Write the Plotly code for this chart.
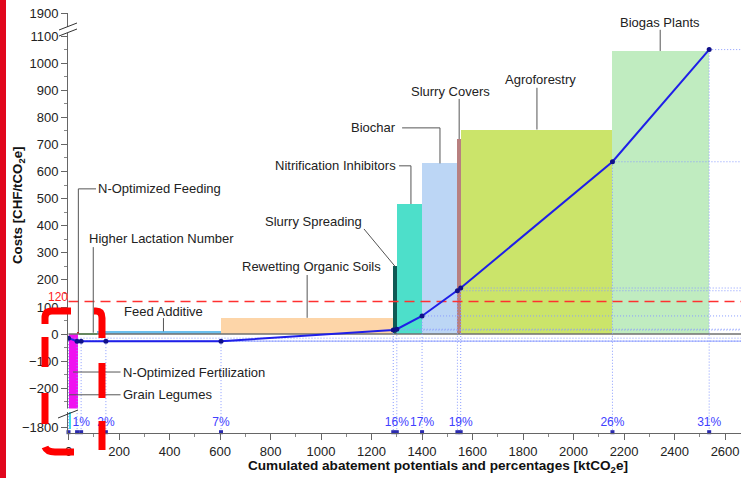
import plotly.graph_objects as go

# ---------------- data ----------------
measures = ["Grain Legumes", "N-Optimized Fertilization", "N-Optimized Feeding",
            "Higher Lactation Number", "Feed Additive", "Rewetting Organic Soils",
            "Slurry Spreading", "Nitrification Inhibitors", "Biochar",
            "Slurry Covers", "Agroforestry", "Biogas Plants"]
x_start = [0, 0, 34, 42, 114, 604, 1286, 1300, 1400, 1540, 1553, 2154]
x_end = [10, 38, 42, 114, 604, 1286, 1300, 1400, 1540, 1553, 2154, 2537]
costs = [-1805, -275, 8, 5, 10, 60, 250, 480, 630, 720, 755, 1045]
colors = ["#40dced", "#f012f0", "#a83a28", "#44cc33", "#6cc0ee", "#fdd5a8",
          "#0e5a55", "#4ddfca", "#bcd6f5", "#b88080", "#cbe46a", "#c0ecc0"]

curve_x = [0, 34, 50, 148, 604, 1286, 1300, 1400, 1540, 1553, 2154, 2537]
curve_y = [-15, -26, -26, -26, -26, 15, 18, 67, 160, 170, 636, 1050]

pct_x = [50, 148, 604, 1300, 1400, 1553, 2154, 2537]
pct_labels = ["1%", "2%", "7%", "16%", "17%", "19%", "26%", "31%"]

y_tick_values = [1900, 1100, 1000, 900, 800, 700, 600, 500, 400, 300, 200, 100, 0, -100, -200, -1800]
y_minor_values = [1050, 950, 850, 750, 650, 550, 450, 350, 250, 150, 50, -50, -150, -250]
threshold = 120

X_MAX = 2663
Y_MIN, Y_MAX = -365, 1185
FONT = "Liberation Sans, Arial, Helvetica, sans-serif"


# broken-axis transform (real value -> display value)
def ty(v):
    if v is None:
        return None
    if v > 1100:
        return 1100 + (v - 1100) * 85.0 / 800.0
    if v < -1000:
        return v + 1456
    return v


def fmt(v):
    return ("\u2212" + str(-v)) if v < 0 else str(v)


# paper helpers for overlay decorations (plot area: x 68..741, y 13..433 px)
def PX(px):
    return (px - 68) / 673.0


def PY(py):
    return (433 - py) / 420.0


fig = go.Figure()

# bars
centers = [(a + b) / 2 for a, b in zip(x_start, x_end)]
widths = [b - a for a, b in zip(x_start, x_end)]
fig.add_trace(go.Bar(
    x=centers, y=[ty(c) for c in costs], base=0, width=widths,
    marker=dict(color=colors, line=dict(width=0)),
    hovertext=measures, showlegend=False))

# zero line
fig.add_trace(go.Scatter(x=[0, X_MAX], y=[0, 0], mode="lines",
                         line=dict(color="#707070", width=1.5), showlegend=False))

# dotted guide lines
gx, gy = [], []
for x, y in zip(curve_x, curve_y):
    gx += [x, x, None, x, X_MAX, None]
    gy += [ty(y), Y_MIN, None, ty(y), ty(y), None]
fig.add_trace(go.Scatter(x=gx, y=gy, mode="lines",
                         line=dict(color="#8a9cff", width=1, dash="1px,2px"),
                         showlegend=False))

# threshold line
fig.add_trace(go.Scatter(x=[0, X_MAX], y=[ty(threshold)] * 2, mode="lines",
                         line=dict(color="#ff3030", width=1.5, dash="10px,6px"),
                         showlegend=False))

# leader lines and labels
labels = [
    ("Biogas Plants", 2343, 1149, "center", [(2343, 1123), (2343, 1045)]),
    ("Agroforestry", 1871, 939, "center", [(1855, 909), (1855, 755)]),
    ("Slurry Covers", 1511, 894, "center", [(1547, 868), (1547, 720)]),
    ("Biochar", 1207, 761, "center", [(1321, 761), (1471, 761), (1471, 630)]),
    ("Nitrification Inhibitors", 1056, 621, "center", [(1309, 621), (1356, 621), (1356, 480)]),
    ("Slurry Spreading", 970, 414, "center", [(1170, 388), (1293, 250)]),
    ("Rewetting Organic Soils", 964, 248, "center", [(945, 218), (945, 60)]),
    ("Feed Additive", 376, 85, "center", [(376, 59), (376, 10)]),
    ("Higher Lactation Number", 370, 351, "center", [(98, 321), (98, 5)]),
    ("N-Optimized Feeding", 110, 536, "left", [(109, 536), (39, 536), (39, 8)]),
    ("N-Optimized Fertilization", 207, -140, "left", [(206, -140), (18, -140)]),
    ("Grain Legumes", 207, -224, "left", [(206, -224), (2, -224)]),
]
lx, ly = [], []
for name, tx, tyy, anc, pts in labels:
    for (px_, py_) in pts:
        lx.append(px_)
        ly.append(py_)
    lx.append(None)
    ly.append(None)
fig.add_trace(go.Scatter(x=lx, y=ly, mode="lines",
                         line=dict(color="#555555", width=1), showlegend=False))

# cost curve
fig.add_trace(go.Scatter(x=curve_x, y=[ty(v) for v in curve_y], mode="lines+markers",
                         line=dict(color="#1f1fe8", width=2),
                         marker=dict(color="#10108a", size=5), showlegend=False))

# axis markers and percentage labels
fig.add_trace(go.Scatter(x=curve_x, y=[-362] * len(curve_x), mode="markers",
                         marker=dict(symbol="square", size=4, color="#2a2ab0"),
                         cliponaxis=False, showlegend=False))
fig.add_trace(go.Scatter(x=pct_x, y=[-328] * len(pct_x), mode="text", text=pct_labels,
                         textposition="middle center",
                         textfont=dict(family=FONT, size=12, color="#4040ff"),
                         showlegend=False))

annotations = []
for name, tx, tyy, anc, pts in labels:
    annotations.append(dict(x=tx, y=tyy, xref="x", yref="y", text=name, showarrow=False,
                            xanchor=anc, yanchor="middle",
                            font=dict(family=FONT, size=13, color="#222222")))
annotations.append(dict(x=PX(58), y=ty(threshold) + 17, xref="paper", yref="y", text=str(threshold),
                        showarrow=False, xanchor="center", yanchor="middle",
                        font=dict(family=FONT, size=12, color="#ff2020")))
annotations.append(dict(x=PX(438), y=PY(466), xref="paper", yref="paper",
                        text="<b>Cumulated abatement potentials and percentages [ktCO<sub>2</sub>e]</b>",
                        showarrow=False, xanchor="center", yanchor="middle",
                        font=dict(family=FONT, size=13.6, color="#111111")))
annotations.append(dict(x=PX(18), y=PY(206), xref="paper", yref="paper",
                        text="<b>Costs [CHF/tCO<sub>2</sub>e]</b>", textangle=-90,
                        showarrow=False, xanchor="center", yanchor="middle",
                        font=dict(family=FONT, size=13.3, color="#111111")))

shapes = []
# axis break gaps and marks
shapes.append(dict(type="rect", xref="paper", yref="paper", x0=PX(64), x1=PX(72),
                   y0=PY(33), y1=PY(27), fillcolor="white", line=dict(width=0), layer="above"))
shapes.append(dict(type="line", xref="paper", yref="paper", x0=PX(59), y0=PY(30), x1=PX(77), y1=PY(23),
                   line=dict(color="#333333", width=1), layer="above"))
shapes.append(dict(type="line", xref="paper", yref="paper", x0=PX(59), y0=PY(36), x1=PX(77), y1=PY(29),
                   line=dict(color="#333333", width=1), layer="above"))
shapes.append(dict(type="rect", xref="paper", yref="paper", x0=PX(64), x1=PX(80),
                   y0=PY(412), y1=PY(408.5), fillcolor="white", line=dict(width=0), layer="above"))
shapes.append(dict(type="line", xref="paper", yref="paper", x0=PX(58), y0=PY(418), x1=PX(78), y1=PY(410),
                   line=dict(color="#333333", width=1), layer="above"))

# red strip on the left edge
shapes.append(dict(type="rect", xref="paper", yref="paper", x0=PX(0), x1=PX(6),
                   y0=PY(478), y1=PY(0), fillcolor="#e1061d", line=dict(width=0), layer="above"))

red = dict(color="#ff0000", width=7)
# left bracket
shapes.append(dict(type="path", xref="paper", yref="paper", layer="above", line=red,
                   path="M %f,%f L %f,%f Q %f,%f %f,%f L %f,%f" % (
                       PX(45), PY(324), PX(45), PY(318), PX(45), PY(311), PX(52), PY(311), PX(71), PY(311))))
shapes.append(dict(type="line", xref="paper", yref="paper", layer="above", line=red,
                   x0=PX(45), x1=PX(45), y0=PY(337), y1=PY(367)))
shapes.append(dict(type="line", xref="paper", yref="paper", layer="above", line=red,
                   x0=PX(45), x1=PX(45), y0=PY(393), y1=PY(424)))
shapes.append(dict(type="path", xref="paper", yref="paper", layer="above", line=red,
                   path="M %f,%f Q %f,%f %f,%f L %f,%f" % (
                       PX(45), PY(447), PX(47), PY(452), PX(55), PY(452), PX(74), PY(452))))
# right bracket
shapes.append(dict(type="path", xref="paper", yref="paper", layer="above", line=red,
                   path="M %f,%f L %f,%f Q %f,%f %f,%f L %f,%f" % (
                       PX(94), PY(311), PX(96), PY(311), PX(102), PY(311), PX(102), PY(318), PX(102), PY(338))))
shapes.append(dict(type="line", xref="paper", yref="paper", layer="above", line=red,
                   x0=PX(102), x1=PX(102), y0=PY(363), y1=PY(398)))
shapes.append(dict(type="line", xref="paper", yref="paper", layer="above", line=red,
                   x0=PX(102), x1=PX(102), y0=PY(421), y1=PY(450)))

fig.update_layout(
    width=741, height=478, autosize=False,
    margin=dict(l=68, r=0, t=13, b=45),
    plot_bgcolor="white", paper_bgcolor="white",
    barmode="overlay", bargap=0, showlegend=False,
    font=dict(family=FONT, size=13, color="#222222"),
    annotations=annotations, shapes=shapes,
    xaxis=dict(range=[-2, X_MAX], showgrid=False, zeroline=False,
               showline=True, linecolor="#666666", linewidth=1,
               ticks="outside", ticklen=6, tickcolor="#666666",
               tickmode="linear", tick0=0, dtick=200,
               tickfont=dict(family=FONT, size=13, color="#222222"),
               minor=dict(ticks="outside", ticklen=3, tickcolor="#888888", dtick=100, tick0=0)),
    yaxis=dict(range=[Y_MIN, Y_MAX], showgrid=False, zeroline=False,
               showline=True, linecolor="#666666", linewidth=1,
               ticks="outside", ticklen=6, tickcolor="#666666",
               tickmode="array", tickvals=[ty(v) for v in y_tick_values],
               ticktext=[fmt(v) for v in y_tick_values],
               tickfont=dict(family=FONT, size=13, color="#222222"),
               minor=dict(ticks="outside", ticklen=3, tickcolor="#888888",
                          tickmode="array", tickvals=[ty(v) for v in y_minor_values])),
)

fig.write_html("out.html", config={"displayModeBar": False},
               post_script="document.body.style.margin='0';document.body.style.overflow='hidden';")
